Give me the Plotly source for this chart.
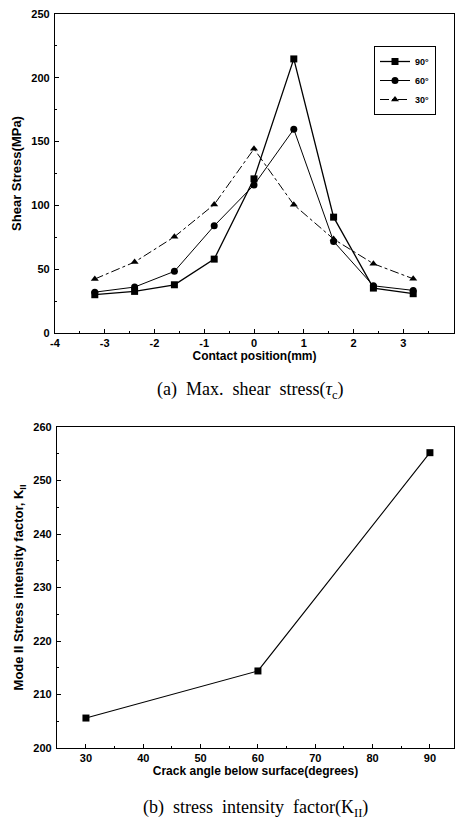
import plotly.graph_objects as go

# ---- data: top chart (max shear stress) ----
contact_pos = [-3.2, -2.4, -1.6, -0.8, 0.0, 0.8, 1.6, 2.4, 3.2]
stress_90 = [30.0, 32.6, 37.8, 57.9, 120.8, 214.8, 90.8, 35.2, 30.8]
stress_60 = [32.0, 36.0, 48.3, 84.0, 116.0, 159.7, 71.8, 37.0, 33.4]
stress_30 = [42.3, 55.6, 75.4, 100.7, 144.3, 100.5, 73.6, 54.3, 42.5]
series_names = ["90°", "60°", "30°"]
x1_ticks = [-4, -3, -2, -1, 0, 1, 2, 3, 4]
y1_ticks = [0, 50, 100, 150, 200, 250]

# ---- data: bottom chart (stress intensity factor) ----
crack_angle = [30, 60, 90]
k2_values = [205.6, 214.4, 255.2]
x2_ticks = [30, 40, 50, 60, 70, 80, 90]
y2_ticks = [200, 210, 220, 230, 240, 250, 260]

BLACK = "#000000"
tick_font = dict(family="Liberation Sans", size=11, color=BLACK)
xtitle_font = dict(family="Liberation Sans", size=12, color=BLACK)
ytitle_font = dict(family="Liberation Sans", size=13, color=BLACK)


def bold_labels(vals):
    return ["<b>%s</b>" % str(v) for v in vals]


fig = go.Figure()

styles = [("solid", "square", 1.3), ("solid", "circle", 1.0), ("dashdot", "triangle-up", 1.0)]
for name, ys, (dash, sym, w) in zip(series_names, [stress_90, stress_60, stress_30], styles):
    fig.add_trace(go.Scatter(
        x=contact_pos, y=ys, name="<b>%s</b>" % name, mode="lines+markers",
        line=dict(color=BLACK, width=w, dash=dash),
        marker=dict(symbol=sym, size=7, color=BLACK),
        xaxis="x", yaxis="y", showlegend=True,
    ))

fig.add_trace(go.Scatter(
    x=crack_angle, y=k2_values, mode="lines+markers",
    line=dict(color=BLACK, width=1.1),
    marker=dict(symbol="square", size=7, color=BLACK),
    xaxis="x2", yaxis="y2", showlegend=False,
))

common_axis = dict(
    showline=True, linecolor=BLACK, linewidth=1.3, mirror=True,
    ticks="inside", ticklen=4, tickcolor=BLACK, tickwidth=1,
    showgrid=False, zeroline=False, tickfont=tick_font, automargin=False,
    tickmode="array",
)

fig.update_layout(
    width=455, height=827,
    margin=dict(l=0, r=0, t=0, b=0),
    paper_bgcolor="white", plot_bgcolor="white",
    xaxis=dict(**common_axis, domain=[55/455, 454/455], range=[-4, 4.02],
               tickvals=x1_ticks, ticktext=bold_labels(x1_ticks),
               minor=dict(ticks="inside", ticklen=2, dtick=0.5, tickcolor=BLACK),
               anchor="y", ticklabelstandoff=0,
               title=dict(text="<b>Contact position(mm)</b>", font=xtitle_font, standoff=2)),
    yaxis=dict(**common_axis, domain=[1-333/827, 1-14/827], range=[0, 250],
               tickvals=y1_ticks, ticktext=bold_labels(y1_ticks),
               minor=dict(ticks="inside", ticklen=2, dtick=25, tickcolor=BLACK),
               anchor="x", ticklabelstandoff=2,
               title=dict(text="<b>Shear Stress(MPa)</b>", font=ytitle_font, standoff=6)),
    xaxis2=dict(**common_axis, domain=[57/455, 454/455], range=[24.95, 94.2],
                tickvals=x2_ticks, ticktext=bold_labels(x2_ticks),
                minor=dict(ticks="inside", ticklen=2, dtick=5, tickcolor=BLACK),
                anchor="y2", ticklabelstandoff=0,
                title=dict(text="<b>Crack angle below surface(degrees)</b>", font=xtitle_font, standoff=2)),
    yaxis2=dict(**common_axis, domain=[1-748/827, 1-427/827], range=[200, 260],
                tickvals=y2_ticks, ticktext=bold_labels(y2_ticks),
                minor=dict(ticks="inside", ticklen=2, dtick=5, tickcolor=BLACK),
                anchor="x2", ticklabelstandoff=2,
                title=dict(text="<b>Mode II Stress intensity factor, K<sub>II</sub></b>", font=ytitle_font, standoff=6)),
    legend=dict(x=436/455, y=1-46/827, xanchor="right", yanchor="top",
                bordercolor=BLACK, borderwidth=1, bgcolor="white",
                font=dict(family="Liberation Sans", size=9, color=BLACK),
                itemwidth=30, tracegroupgap=0),
    showlegend=True,
)

fig.add_annotation(text="(a)  Max.  shear  stress(<i>τ</i><sub>c</sub>)", xref="paper", yref="paper",
                   x=250/455, y=1-390/827, showarrow=False, xanchor="center", yanchor="middle",
                   font=dict(family="Liberation Serif", size=18, color=BLACK))
fig.add_annotation(text="(b)  stress  intensity  factor(K<sub>II</sub>)", xref="paper", yref="paper",
                   x=255/455, y=1-808/827, showarrow=False, xanchor="center", yanchor="middle",
                   font=dict(family="Liberation Serif", size=18, color=BLACK))

fig.write_html("out.html", config={"displayModeBar": False},
               post_script="document.body.style.margin='0';document.body.style.overflow='hidden';")
